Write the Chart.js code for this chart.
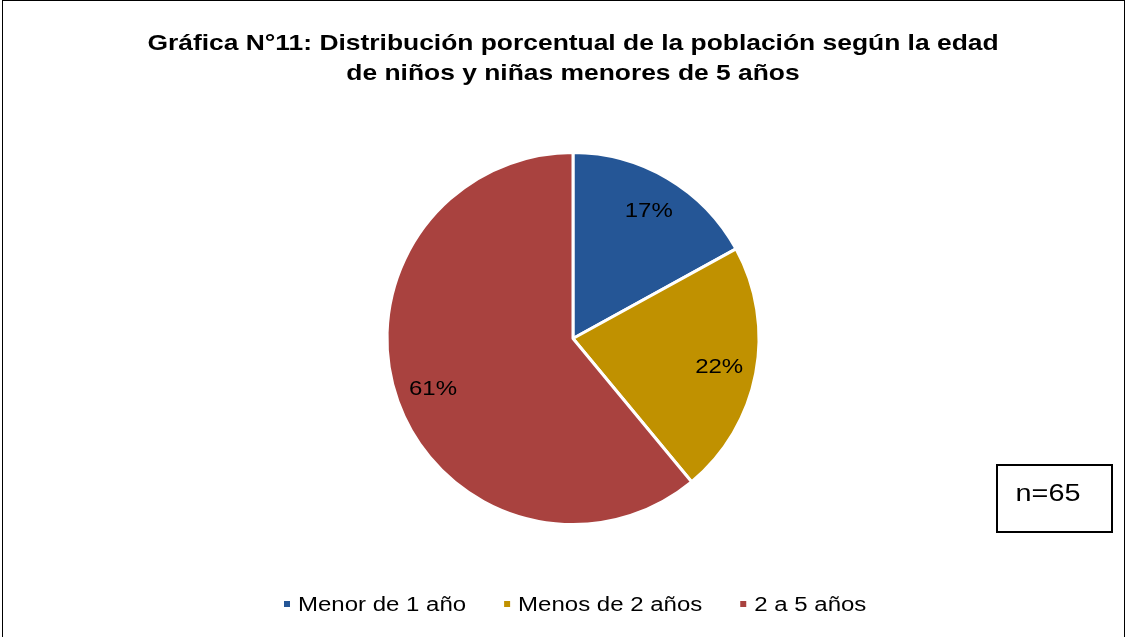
<!DOCTYPE html>
<html>
<head>
<meta charset="utf-8">
<script src="https://cdn.jsdelivr.net/npm/chart.js@4.4.0/dist/chart.umd.min.js"></script>
<style>
  html, body { margin: 0; padding: 0; background: #fff; }
  #wrap { width: 1128px; height: 637px; position: relative; }
</style>
</head>
<body>
<div id="wrap"><canvas id="pie_chart"></canvas></div>
<script>
var titleLines = ['Gráfica N°11: Distribución porcentual de la población según la edad', 'de niños y niñas menores de 5 años'];
var categories = ['Menor de 1 año', 'Menos de 2 años', '2 a 5 años'];
var percents = [17, 22, 61];
var sliceColors = ['#255696', '#C09100', '#A9423F'];
var sampleNote = 'n=65';

var fontFamily = '"Liberation Sans", Arial, sans-serif';
var stretchX = 1.2; // text in the source is drawn a bit wide

function wideText(ctx, text, x, y) {
    ctx.save();
    ctx.translate(x, y);
    ctx.scale(stretchX, 1);
    ctx.fillText(text, 0, 0);
    ctx.restore();
}

// title, percent labels, legend, n box and frame
var extrasPlugin = {
    id: 'extras',
    afterDraw: function (chart) {
        var ctx = chart.ctx;
        ctx.save();

        // frame
        ctx.strokeStyle = '#000';
        ctx.lineWidth = 1;
        ctx.strokeRect(2.5, 0.5, 1122, 640);

        // title
        ctx.fillStyle = '#000';
        ctx.textAlign = 'center';
        ctx.textBaseline = 'middle';
        ctx.font = 'bold 22px ' + fontFamily;
        wideText(ctx, titleLines[0], 573, 44);
        wideText(ctx, titleLines[1], 573, 74);

        // percent labels
        var meta = chart.getDatasetMeta(0);
        ctx.font = '20px ' + fontFamily;
        meta.data.forEach(function (arc, i) {
            var p = arc.getProps(['x', 'y', 'startAngle', 'endAngle', 'outerRadius'], true);
            var mid = (p.startAngle + p.endAngle) / 2;
            var r = p.outerRadius * 0.8;
            wideText(ctx, percents[i] + '%', p.x + Math.cos(mid) * r, p.y + Math.sin(mid) * r + 1);
        });

        // legend
        ctx.font = '20px ' + fontFamily;
        ctx.textAlign = 'left';
        var box = 6, gapBox = 8, gapItem = 38;
        var x = 284;
        var y = 605;
        categories.forEach(function (c, i) {
            ctx.fillStyle = sliceColors[i];
            ctx.fillRect(x, y - 4, box, box);
            ctx.fillStyle = '#000';
            wideText(ctx, c, x + box + gapBox, y);
            x += box + gapBox + ctx.measureText(c).width * stretchX + gapItem;
        });

        // n box
        ctx.lineWidth = 2;
        ctx.strokeRect(997, 465, 115, 67);
        ctx.textAlign = 'center';
        ctx.font = '24px ' + fontFamily;
        wideText(ctx, sampleNote, 1048, 494);

        ctx.restore();
    }
};

var ctx = document.getElementById('pie_chart');
var chart = new Chart(ctx, {
    type: 'pie',
    data: {
        labels: categories,
        datasets: [{
            data: percents,
            backgroundColor: sliceColors,
            borderColor: '#ffffff',
            borderWidth: 3,
            hoverOffset: 0
        }]
    },
    options: {
        responsive: true,
        maintainAspectRatio: false,
        animation: false,
        radius: 186,
        layout: {
            padding: { left: 380, right: 362, top: 150, bottom: 110 }
        },
        plugins: {
            legend: { display: false },
            title: { display: false },
            tooltip: { enabled: false }
        }
    },
    plugins: [extrasPlugin]
});
</script>
</body>
</html>
